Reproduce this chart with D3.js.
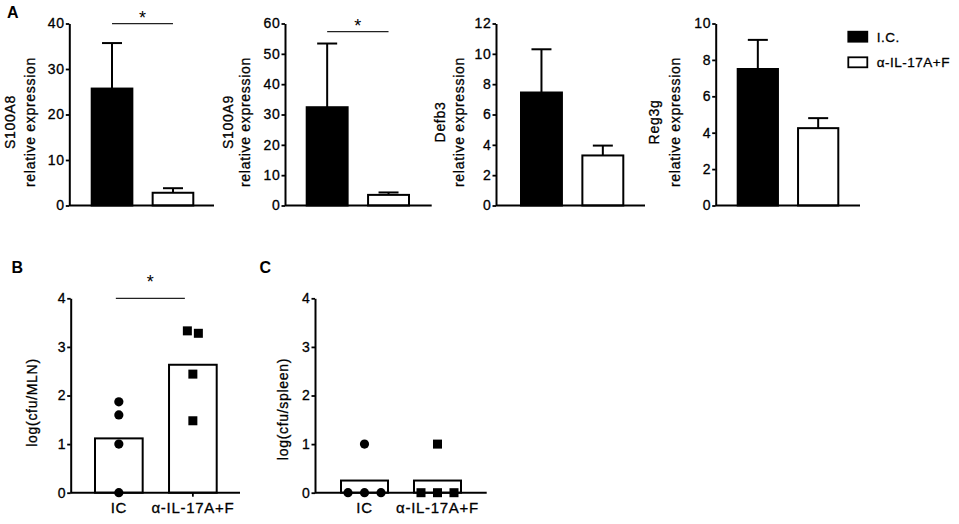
<!DOCTYPE html>
<html>
<head>
<meta charset="utf-8">
<script src="https://cdn.jsdelivr.net/npm/d3@7"></script>
<style>
  body { margin: 0; background: #fff; }
  svg { display: block; }
</style>
</head>
<body>
<svg id="chart" width="959" height="524"></svg>
<script>
// Panel A - relative expression, mean and upper SEM
let groups = ["I.C.", "α-IL-17A+F"];
let genes = ["S100A8", "S100A9", "Defb3", "Reg3g"];
let geneMax = [40, 60, 12, 10];
let geneStep = [10, 10, 2, 2];
let icMean = [25.7, 32.4, 7.45, 7.5];
let icUpper = [35.7, 53.4, 10.3, 9.1];
let abMean = [2.8, 3.5, 3.3, 4.25];
let abUpper = [3.8, 4.3, 3.95, 4.8];
let geneSig = [true, true, false, false];

// Panels B and C - bacterial load per mouse
let cfuGroups = ["IC", "α-IL-17A+F"];
let cfuTicks = [0, 1, 2, 3, 4];
let mlnIC = [1.87, 1.6, 1.0, 0];
let mlnAb = [3.33, 3.28, 2.44, 1.48];
let spleenIC = [1, 0, 0, 0];
let spleenAb = [1, 0, 0, 0];

let font = '"Liberation Sans", Arial, Helvetica, sans-serif';
let svg = d3.select("#chart");

// layout
let yTopA = 23.5, yBaseA = 205.5;
let layoutA = [
  {x0: 69.3, x1: 214, bl: 22.4, br: 20.7, lab: [14.6, 35.4], sigY: 23.7},
  {x0: 285, x1: 431.7, bl: 21.7, br: 22.7, lab: [232.9, 250], sigY: 31.7},
  {x0: 496, x1: 645, bl: 25, br: 21.7, lab: [444.8, 464]},
  {x0: 715.7, x1: 860, bl: 22, br: 21.7, lab: [659.3, 680.4]}
];
let labCyA = 122;

function styleText(sel, size, ls) {
  return sel.attr("font-family", font).attr("font-size", size)
    .attr("letter-spacing", (ls == null ? 0.7 : ls) + "px").attr("fill", "#000")
    .attr("stroke", "#000").attr("stroke-width", 0.3);
}

function yAxis(g, y, ticks) {
  g.call(d3.axisLeft(y).tickValues(ticks).tickFormat(d3.format("d"))
    .tickSize(3.5).tickSizeOuter(0).tickPadding(1));
  g.select(".domain").attr("stroke-width", 2);
  g.selectAll(".tick line").attr("stroke-width", 1.8);
  styleText(g.selectAll(".tick text"), 14);
  g.attr("font-family", null).attr("font-size", null);
}

function yLabel(lines, xs, cy) {
  let t = styleText(svg.append("text"), 14)
    .attr("transform", "rotate(-90)")
    .attr("text-anchor", "middle");
  lines.forEach((s, i) => {
    t.append("tspan").attr("x", -cy).attr("y", xs[i]).text(s);
  });
}

function sigMark(xa, xb, lineY, starY) {
  svg.append("line")
    .attr("x1", xa).attr("x2", xb).attr("y1", lineY).attr("y2", lineY)
    .attr("stroke", "#222").attr("stroke-width", 1.2);
  svg.append("text")
    .attr("x", (xa + xb) / 2).attr("y", starY)
    .attr("text-anchor", "middle")
    .attr("font-family", font).attr("font-size", 18)
    .text("*");
}

// Panel A
genes.forEach((gene, i) => {
  let L = layoutA[i];
  let x = d3.scaleBand().domain(groups)
    .range([L.x0 + L.bl, L.x1 - L.br]).paddingInner(0.333);
  let y = d3.scaleLinear().domain([0, geneMax[i]]).range([yBaseA, yTopA]);
  let means = [icMean[i], abMean[i]];
  let uppers = [icUpper[i], abUpper[i]];
  let g = svg.append("g");

  // error bars (upper only)
  groups.forEach((grp, j) => {
    let cx = x(grp) + x.bandwidth() / 2;
    g.append("line").attr("x1", cx).attr("x2", cx)
      .attr("y1", y(means[j])).attr("y2", y(uppers[j]))
      .attr("stroke", "#000").attr("stroke-width", 2);
    g.append("line").attr("x1", cx - 10).attr("x2", cx + 10)
      .attr("y1", y(uppers[j])).attr("y2", y(uppers[j]))
      .attr("stroke", "#000").attr("stroke-width", 2);
  });

  g.selectAll("rect.bar").data(groups).join("rect")
    .attr("class", "bar")
    .attr("x", d => x(d)).attr("width", x.bandwidth())
    .attr("y", (d, j) => y(means[j]))
    .attr("height", (d, j) => y(0) - y(means[j]))
    .attr("fill", (d, j) => j ? "#fff" : "#000")
    .attr("stroke", "#000").attr("stroke-width", 2);

  // x axis line
  svg.append("line").attr("x1", L.x0).attr("x2", L.x1)
    .attr("y1", y(0)).attr("y2", y(0))
    .attr("stroke", "#000").attr("stroke-width", 2);

  yAxis(svg.append("g").attr("transform", `translate(${L.x0},0)`), y,
    d3.range(0, geneMax[i] + geneStep[i] / 2, geneStep[i]));

  yLabel([gene, "relative expression"], L.lab, labCyA);

  if (geneSig[i]) {
    let ca = x(groups[0]) + x.bandwidth() / 2;
    let cb = x(groups[1]) + x.bandwidth() / 2;
    sigMark(ca, cb, L.sigY, L.sigY + 0.6);
  }
});

// legend
let legend = svg.append("g").attr("transform", "translate(848.3,31.7)");
groups.forEach((grp, j) => {
  legend.append("rect").attr("x", 0).attr("y", j * 25.6)
    .attr("width", 19).attr("height", 10)
    .attr("fill", j ? "#fff" : "#000").attr("stroke", "#000").attr("stroke-width", 1.8);
  styleText(legend.append("text"), 13.5, 0.5)
    .attr("x", 28.4).attr("y", j * 25.6 + 10)
    .text(grp);
});

// Panels B and C
let yBaseB = 492.7, yTopB = 298.3;
let cfuPanels = [
  {ic: mlnIC, ab: mlnAb, label: "log(cfu/MLN)", x0: 70.7, x1: 240, bl: 24.3, br: 23.3,
   labX: 36.5, labCy: 402.5, spread: 11, sig: true},
  {ic: spleenIC, ab: spleenAb, label: "log(cfu/spleen)", x0: 315, x1: 486.7, bl: 26, br: 25.7,
   labX: 288, labCy: 409, spread: 16.5, sig: false}
];

function placePoints(vals, y, cx, sp, r) {
  let order = vals.map((v, i) => i).sort((a, b) => vals[b] - vals[a]);
  let rows = [];
  order.forEach(i => {
    let last = rows[rows.length - 1];
    if (last && Math.abs(y(vals[last[0]]) - y(vals[i])) < 2 * r) last.push(i);
    else rows.push([i]);
  });
  let out = [];
  rows.forEach(row => row.forEach((i, k) => {
    out.push({x: cx + (k - (row.length - 1) / 2) * sp, y: y(vals[i])});
  }));
  return out;
}

cfuPanels.forEach(P => {
  let x = d3.scaleBand().domain(cfuGroups)
    .range([P.x0 + P.bl, P.x1 - P.br]).paddingInner(0.356);
  let y = d3.scaleLinear().domain([0, 4]).range([yBaseB, yTopB]);
  let sets = [P.ic, P.ab];

  svg.append("g").selectAll("rect").data(cfuGroups).join("rect")
    .attr("x", d => x(d)).attr("width", x.bandwidth())
    .attr("y", (d, j) => y(d3.mean(sets[j])))
    .attr("height", (d, j) => y(0) - y(d3.mean(sets[j])))
    .attr("fill", "#fff").attr("stroke", "#000").attr("stroke-width", 2);

  // x axis
  let gx = svg.append("g").attr("transform", `translate(0,${yBaseB})`);
  gx.call(d3.axisBottom(x).tickSize(4).tickSizeOuter(0));
  gx.select(".domain").remove();
  gx.selectAll(".tick line").attr("stroke-width", 1.8);
  styleText(gx.selectAll(".tick text"), 15).attr("y", 20.5).attr("dy", 0);
  gx.attr("font-family", null).attr("font-size", null);
  svg.append("line").attr("x1", P.x0).attr("x2", P.x1)
    .attr("y1", yBaseB).attr("y2", yBaseB)
    .attr("stroke", "#000").attr("stroke-width", 2);

  // individual mice
  let circ = placePoints(P.ic, y, x(cfuGroups[0]) + x.bandwidth() / 2, P.spread, 4.5);
  svg.append("g").selectAll("circle").data(circ).join("circle")
    .attr("cx", d => d.x).attr("cy", d => d.y).attr("r", 4.6).attr("fill", "#000");
  let sq = placePoints(P.ab, y, x(cfuGroups[1]) + x.bandwidth() / 2, P.spread, 4.5);
  svg.append("g").selectAll("rect").data(sq).join("rect")
    .attr("x", d => d.x - 4.5).attr("y", d => d.y - 4.5)
    .attr("width", 9).attr("height", 9).attr("fill", "#000");

  yAxis(svg.append("g").attr("transform", `translate(${P.x0},0)`), y, cfuTicks);
  yLabel([P.label], [P.labX], P.labCy);

  if (P.sig) {
    sigMark(x(cfuGroups[0]) + x.bandwidth() / 2 - 3, x(cfuGroups[1]) + x.bandwidth() / 2 - 8,
      y(4), 288.3);
  }
});

// panel letters
[["A", 7, 17.5], ["B", 11.5, 273.3], ["C", 259.5, 273.3]].forEach(p => {
  svg.append("text").attr("x", p[1]).attr("y", p[2])
    .attr("font-family", font).attr("font-size", 16).attr("font-weight", "bold")
    .text(p[0]);
});
</script>
</body>
</html>
